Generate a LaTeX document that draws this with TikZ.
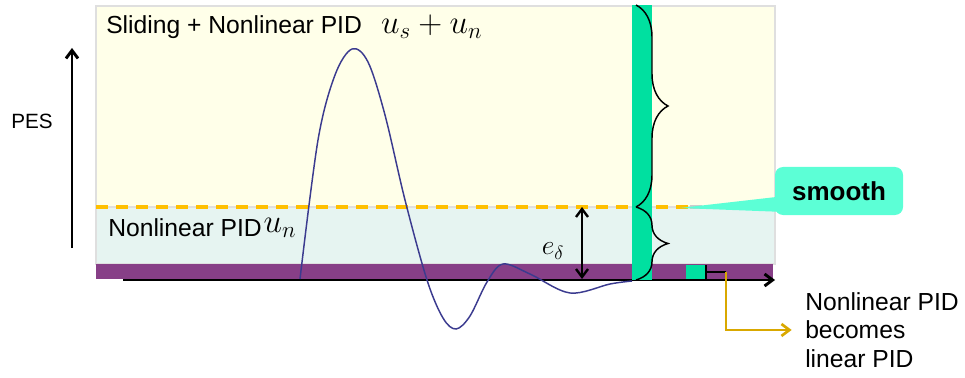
\documentclass[tikz,border=0pt]{standalone}
\usepackage{fontspec}
\setmainfont{Liberation Sans}
\usepackage{amsmath}
\usetikzlibrary{positioning,arrows.meta,decorations.pathreplacing}

\definecolor{bgyellow}{HTML}{FFFFE9}
\definecolor{bgcyan}{HTML}{E6F4F1}
\definecolor{bandpurple}{HTML}{873F87}
\definecolor{bargreen}{HTML}{00E0A0}
\definecolor{calloutgreen}{HTML}{5CFFD6}
\definecolor{dashyellow}{HTML}{FFC000}
\definecolor{curveblue}{HTML}{3B3B8F}
\definecolor{linkgold}{HTML}{D9A800}

\begin{document}
\begin{tikzpicture}[
	x=0.75pt,y=-0.75pt,
	>={Straight Barb[length=6pt,width=9pt]},
	label/.style={
		inner sep=0pt,
		font=\fontsize{18.5}{21.5}\selectfont
	},
	region/.style={draw=gray!25,line width=0.8pt},
	barbrace/.style={
		decorate,
		decoration={brace,amplitude=24pt,raise=-12pt},
		line width=1.1pt
	},
	axisline/.style={line width=2.2pt},
	response/.style={curveblue,line width=1.1pt}
	]
	
	\useasboundingbox (0,0) rectangle (965,378);
	
	% operating regions
	\draw[region,fill=bgyellow] (96,6) rectangle (775,207);
	\draw[region,fill=bgcyan] (96,207) rectangle (775,264);
	\fill[bandpurple] (96,264) rectangle (773,279);
	
	\draw[dashyellow,line width=2.4pt,dash pattern=on 9pt off 6pt] (96,207) -- (690,207);
	\draw[gray!40,line width=2.4pt,dash pattern=on 9pt off 6pt] (690,207) -- (775,207);
	
	% axes
	\coordinate (origin) at (123,280);
	\coordinate (tend) at (775,280);
	\draw[axisline,->] (origin) -- (tend);
	
	\coordinate (pesbot) at (72,248);
	\coordinate (pestop) at (72,48);
	\draw[axisline,->] (pesbot) -- (pestop);
	\node[label,font=\fontsize{15.5}{18}\selectfont] (pes) at (32,121) {PES};
	
	% error response
	\draw[response] plot[smooth,tension=0.55] coordinates {
		(300,279) (318,140) (335,75) (352,49) (368,62) (385,115) (405,200)
		(427,280) (443,318) (456,329) (470,316) (487,282) (503,264) (530,274)
		(570,293) (610,284) (632,281)};
	
	% switching bar
	\fill[bargreen] (632,5) rectangle (652,280);
	\draw[barbrace] (652,5) -- (652,207);
	\draw[barbrace] (652,207) -- (652,280);
	
	\fill[bargreen] (686,265) rectangle (706,279);
	\draw[line width=1.2pt] (706,265) -- (706,279);
	\coordinate (lin) at (726,272);
	\draw[line width=1.2pt] (706,272) -- (lin);
	
	% boundary layer
	\coordinate (etop) at (582,207);
	\coordinate (ebot) at (582,279);
	\draw[line width=1.8pt,<->] (etop) -- (ebot);
	\node[font=\fontsize{22}{24}\selectfont] (edelta) at (553,251) {$e_\delta$};
	
	% texts
	\node[label,anchor=west] (slide) at (106,27) {Sliding + Nonlinear PID};
	\node[font=\fontsize{23}{25}\selectfont,inner sep=0pt,right=14pt of slide] (usun) {$u_s+u_n$};
	\node[label,anchor=west] (npid) at (108,228) {Nonlinear PID};
	\node[font=\fontsize{23}{25}\selectfont,inner sep=0pt,right=1pt of npid] (un) {$u_n$};
	
	\node[label,anchor=north west,align=left] (note) at (805,292)
		{Nonlinear PID\\becomes\\linear PID};
	\draw[linkgold,line width=2pt,->] (lin) |- ([xshift=-10pt]note.west);
	
	% callout
	\coordinate (tip) at (680,208);
	\fill[calloutgreen] (tip) -- (785,196) -- (785,212) -- cycle;
	\node[fill=calloutgreen,rounded corners=6pt,minimum width=96pt,minimum height=36pt,
		font=\bfseries\fontsize{19.5}{22}\selectfont] (smooth) at (839,191) {smooth};
	
\end{tikzpicture}
\end{document}
